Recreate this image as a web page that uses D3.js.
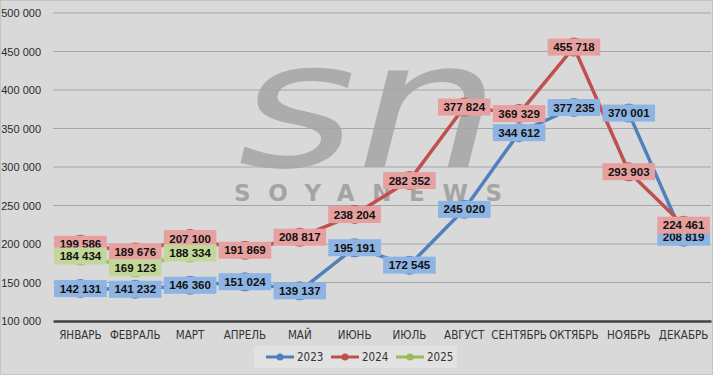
<!DOCTYPE html>
<html><head><meta charset="utf-8">
<script src="https://cdn.jsdelivr.net/npm/d3@7"></script>
<style>
html,body{margin:0;padding:0;background:#fff;}
svg{display:block;}
</style></head>
<body>
<svg id="chart" width="715" height="377"></svg>
<script>
const months = ["ЯНВАРЬ","ФЕВРАЛЬ","МАРТ","АПРЕЛЬ","МАЙ","ИЮНЬ","ИЮЛЬ","АВГУСТ","СЕНТЯБРЬ","ОКТЯБРЬ","НОЯБРЬ","ДЕКАБРЬ"];
const v2023 = [142131,141232,146360,151024,139137,195191,172545,245020,344612,377235,370001,208819];
const v2024 = [199586,189676,207100,191869,208817,238204,282352,377824,369329,455718,293903,224461];
const v2025 = [184434,169123,188334];
const seriesNames = ["2023","2024","2025"];
const yTicks = [100000,150000,200000,250000,300000,350000,400000,450000,500000];

(function(){
const lineColors = ["#4f81bd","#c0504d","#9bbb59"];
const boxColors = ["#8db4e2","#e6a09f","#c4d79b"];
const series = [v2023, v2024, v2025];

const svg = d3.select("#chart");
const W = 715, H = 377;
const fontLbl = "'Liberation Sans Narrow','Arial Narrow','DejaVu Sans Condensed',sans-serif";
const fontNum = "'Liberation Sans','Arial',sans-serif";

svg.append("rect").attr("x",0.5).attr("y",0.5).attr("width",W-3).attr("height",H-3)
  .attr("fill","#d9d9d9").attr("stroke","#c4c4c4");

const pl = 53, pr = 711, pt = 13, pb = 321;
const x = d3.scaleBand().domain(months).range([pl,pr]);
const y = d3.scaleLinear().domain([100000,500000]).range([pb,pt]);
const fmt = v => d3.format(",")(v).replace(/,/g," ");

// watermark
const wm = svg.append("g");
wm.append("text").attr("x",238).attr("y",167)
  .attr("font-family","'DejaVu Sans',sans-serif").attr("font-style","italic")
  .attr("font-size",176).attr("fill","#acacac")
  .attr("textLength",262).attr("lengthAdjust","spacingAndGlyphs").text("sn");
wm.append("text").attr("x",234).attr("y",201)
  .attr("font-family","'DejaVu Sans',sans-serif").attr("font-weight","bold")
  .attr("font-size",23).attr("fill","#a4a4a4")
  .attr("textLength",268).attr("lengthAdjust","spacing").text("SOYANEWS");

// grid
svg.append("g").selectAll("line").data(yTicks.filter(t=>t>100000)).join("line")
  .attr("x1",pl).attr("x2",pr).attr("y1",d=>y(d)).attr("y2",d=>y(d))
  .attr("stroke","#a6a6a6").attr("stroke-width",1);

// y axis labels
const yAxis = d3.axisLeft(y).tickValues(yTicks).tickFormat(fmt).tickSize(0).tickPadding(12);
const gy = svg.append("g").attr("transform",`translate(${pl},0)`).call(yAxis);
gy.select(".domain").remove();
gy.selectAll("text").attr("font-family",fontNum).attr("font-size",11).attr("fill","#2a2a2a");

// x axis
const xAxis = d3.axisBottom(x).tickSize(0).tickPadding(10);
const gx = svg.append("g").attr("transform",`translate(0,${pb})`).call(xAxis);
gx.select(".domain").attr("stroke","#404040").attr("stroke-width",2.5);
gx.selectAll("text").attr("font-family",fontLbl).attr("font-size",11.5).attr("fill","#333");

const cx = i => x(months[i]) + x.bandwidth()/2;
const line = d3.line().x((d,i)=>cx(i)).y(d=>y(d));

series.forEach((s,k)=>{
  svg.append("path").datum(s).attr("d",line).attr("fill","none")
    .attr("stroke",lineColors[k]).attr("stroke-width",3.5).attr("stroke-linejoin","round");
  svg.append("g").selectAll("circle").data(s).join("circle")
    .attr("cx",(d,i)=>cx(i)).attr("cy",d=>y(d)).attr("r",9.5)
    .attr("fill",lineColors[k]);
});

series.forEach((s,k)=>{
  const g = svg.append("g");
  s.forEach((d,i)=>{
    const gg = g.append("g").attr("transform",`translate(${cx(i)},${y(d)})`);
    const r = gg.append("rect");
    const t = gg.append("text").attr("text-anchor","middle").attr("dy","0.36em")
      .attr("font-family",fontNum).attr("font-weight","bold").attr("font-size",11.5)
      .attr("fill","#111").text(fmt(d));
    const w = t.node().getComputedTextLength() + 11;
    r.attr("x",-w/2).attr("y",-8.5).attr("width",w).attr("height",17).attr("fill",boxColors[k]);
  });
});

// legend
const lg = svg.append("g");
lg.append("rect").attr("x",254).attr("y",346).attr("width",203).attr("height",22).attr("fill","#e2e2e2");
const lx = [266,331,396];
seriesNames.forEach((n,k)=>{
  const g = lg.append("g").attr("transform",`translate(${lx[k]},357)`);
  g.append("line").attr("x1",0).attr("x2",28).attr("stroke",lineColors[k]).attr("stroke-width",3);
  g.append("circle").attr("cx",14).attr("r",3.5).attr("fill",lineColors[k]);
  g.append("text").attr("x",31).attr("dy","0.36em").attr("font-family",fontLbl).attr("font-size",11.5)
    .attr("fill","#333").text(n);
});
})();
</script>
</body></html>
